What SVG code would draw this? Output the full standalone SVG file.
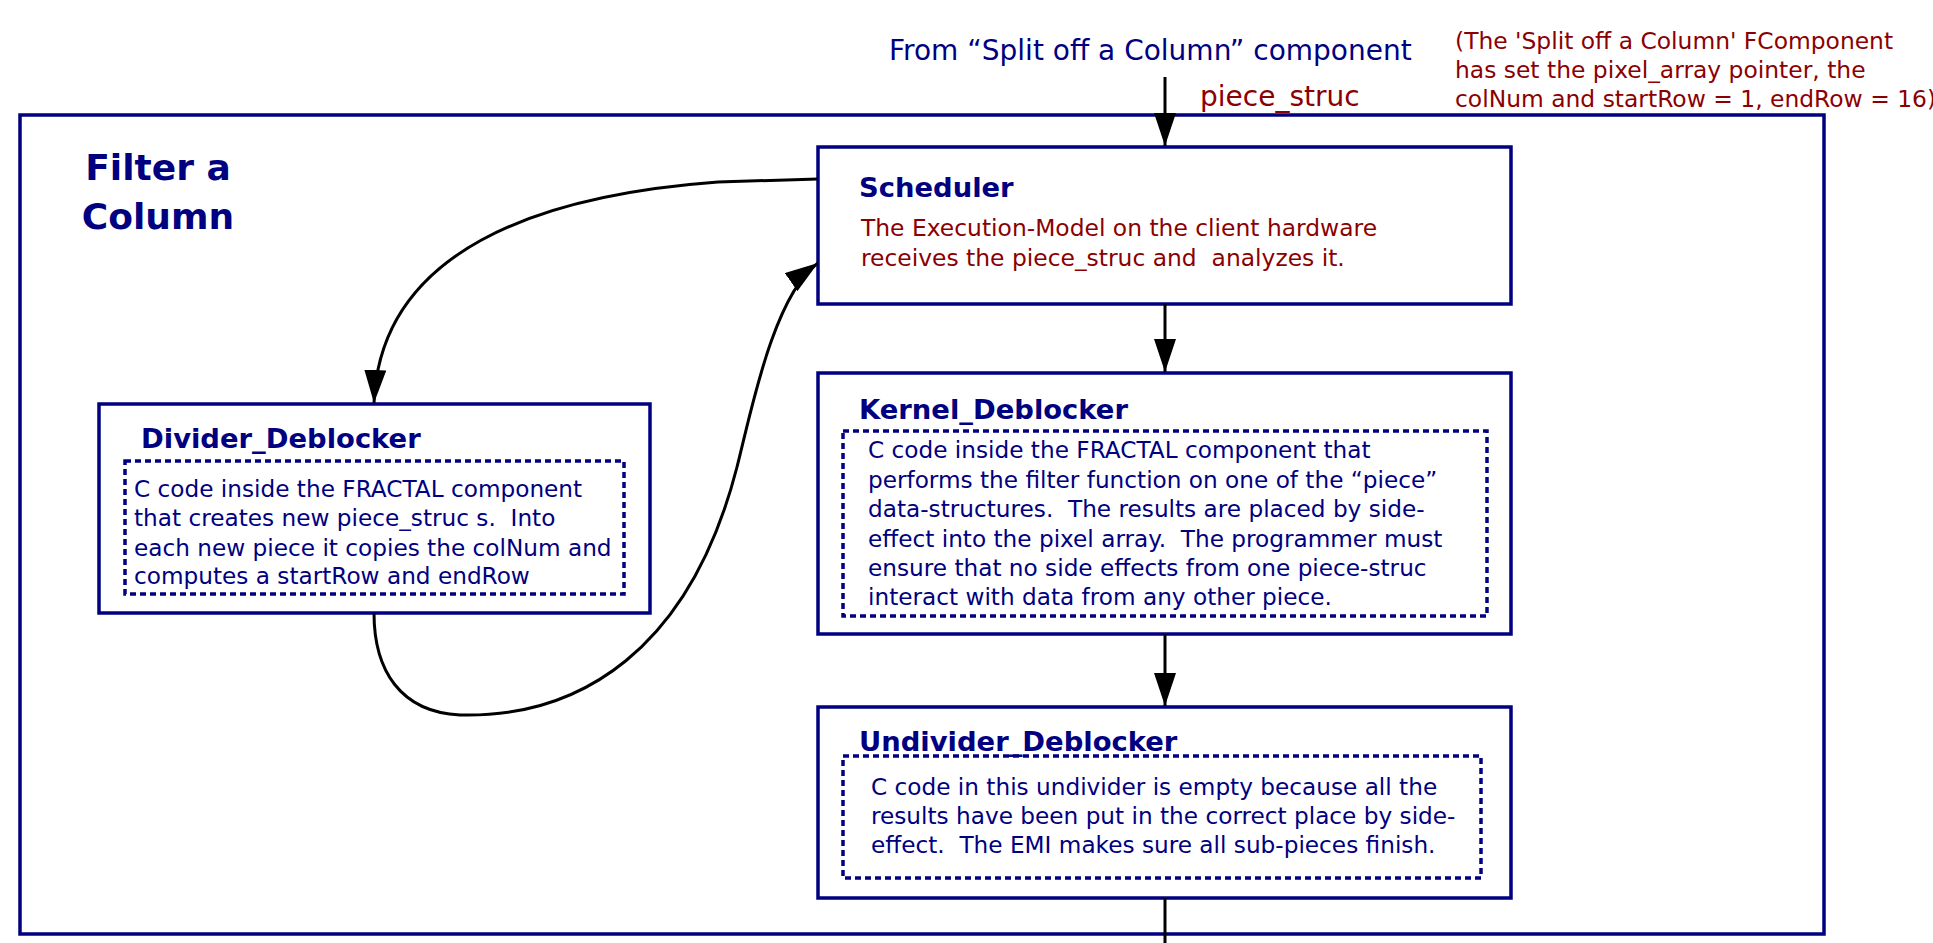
<svg xmlns="http://www.w3.org/2000/svg" width="1933" height="943" viewBox="0 0 1933 943" xml:space="preserve">
  <style>
    text { white-space: pre; }
    .frame { fill: none; stroke: #000080; stroke-width: 3.5; }
    .box { fill: #ffffff; stroke: #000080; stroke-width: 3.5; }
    .code { fill: none; stroke: #000080; stroke-width: 3.5; stroke-dasharray: 6 4; }
    .title { font-family: "DejaVu Sans", sans-serif; font-weight: bold; font-size: 36px; fill: #000080; }
    .head { font-family: "DejaVu Sans", sans-serif; font-weight: bold; font-size: 27.4px; fill: #000080; }
    .body { font-family: "DejaVu Sans", sans-serif; font-size: 23.2px; fill: #000080; }
    .note { font-family: "DejaVu Sans", sans-serif; font-size: 23.4px; fill: #8b0000; }
    .label { font-family: "DejaVu Sans", sans-serif; font-size: 28px; fill: #000080; }
    .label.red { fill: #8b0000; }
    .flow { fill: none; stroke: #000000; stroke-width: 3; }
  </style>
  <defs>
    <marker id="arrow" markerUnits="userSpaceOnUse" markerWidth="34" markerHeight="22" refX="33" refY="11" orient="auto">
      <path d="M0,0 L33,11 L0,22 Z" fill="#000000"/>
    </marker>
  </defs>

  <rect width="1933" height="943" fill="#ffffff"/>

  <!-- enclosing component -->
  <g id="filter-a-column">
    <rect class="frame" x="20" y="115" width="1804" height="819"/>
    <text class="title" x="158" y="180" text-anchor="middle">Filter a</text>
    <text class="title" x="158" y="229" text-anchor="middle">Column</text>
  </g>

  <!-- incoming data -->
  <g id="input-label">
    <text class="label" x="889" y="60">From “Split off a Column” component</text>
    <text class="label red" x="1200" y="106">piece_struc</text>
  </g>

  <g id="input-note">
    <text class="note" x="1455" y="49">(The 'Split off a Column' FComponent</text>
    <text class="note" x="1455" y="78">has set the pixel_array pointer, the</text>
    <text class="note" x="1455" y="107">colNum and startRow = 1, endRow = 16)</text>
  </g>

  <g id="scheduler">
    <rect class="box" x="818" y="147" width="693" height="157"/>
    <text class="head" x="859" y="197">Scheduler</text>
    <text class="note" x="861" y="236">The Execution-Model on the client hardware</text>
    <text class="note" x="861" y="266">receives the piece_struc and  analyzes it.</text>
  </g>

  <g id="divider-deblocker">
    <rect class="box" x="99" y="404" width="551" height="209"/>
    <text class="head" x="141" y="448">Divider_Deblocker</text>
    <rect class="code" x="125" y="461" width="499" height="133"/>
    <text class="body" x="134" y="497">C code inside the FRACTAL component</text>
    <text class="body" x="134" y="526">that creates new piece_struc s.  Into</text>
    <text class="body" x="134" y="556">each new piece it copies the colNum and</text>
    <text class="body" x="134" y="584">computes a startRow and endRow</text>
  </g>

  <g id="kernel-deblocker">
    <rect class="box" x="818" y="373" width="693" height="261"/>
    <text class="head" x="859" y="419">Kernel_Deblocker</text>
    <rect class="code" x="843" y="431" width="644" height="185"/>
    <text class="body" x="868" y="458">C code inside the FRACTAL component that</text>
    <text class="body" x="868" y="488">performs the filter function on one of the “piece”</text>
    <text class="body" x="868" y="517">data-structures.  The results are placed by side-</text>
    <text class="body" x="868" y="547">effect into the pixel array.  The programmer must</text>
    <text class="body" x="868" y="576">ensure that no side effects from one piece-struc</text>
    <text class="body" x="868" y="605">interact with data from any other piece.</text>
  </g>

  <g id="undivider-deblocker">
    <rect class="box" x="818" y="707" width="693" height="191"/>
    <text class="head" x="859" y="751">Undivider_Deblocker</text>
    <rect class="code" x="843" y="756" width="638" height="122"/>
    <text class="body" x="871" y="795">C code in this undivider is empty because all the</text>
    <text class="body" x="871" y="824">results have been put in the correct place by side-</text>
    <text class="body" x="871" y="853">effect.  The EMI makes sure all sub-pieces finish.</text>
  </g>

  <g id="connectors">
    <path class="flow" d="M1165,77 L1165,146" marker-end="url(#arrow)"/>
    <path class="flow" d="M1165,304 L1165,372" marker-end="url(#arrow)"/>
    <path class="flow" d="M1165,634 L1165,706" marker-end="url(#arrow)"/>
    <path class="flow" d="M1165,898 L1165,943"/>
    <path class="flow" d="M818,179 L718,182 C540,195 380,250 374,403" marker-end="url(#arrow)"/>
    <path class="flow" d="M374,613 C374,670 400,712 460,715 C580,718 690,650 737,467 C750,417 773,295 818,263" marker-end="url(#arrow)"/>
  </g>
</svg>
